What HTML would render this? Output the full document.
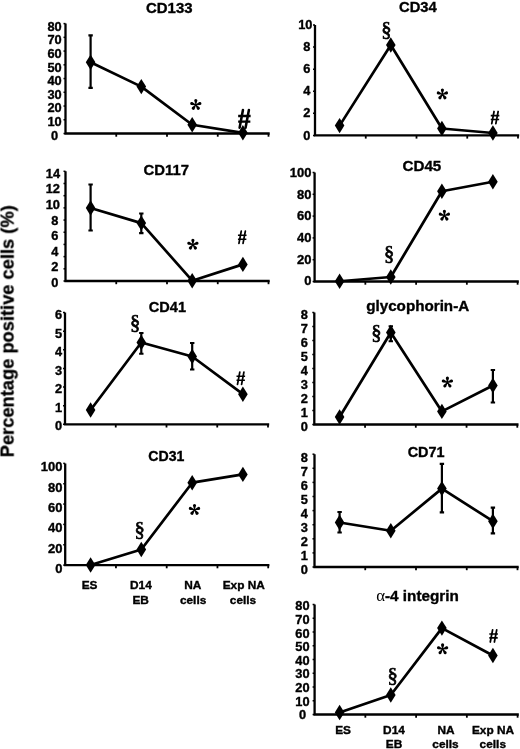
<!DOCTYPE html>
<html><head><meta charset="utf-8"><style>
html,body{margin:0;padding:0;background:#fff;}
svg{display:block;will-change:transform;}
</style></head><body>
<svg width="520" height="749" viewBox="0 0 520 749">
<defs><filter id="b" x="0" y="0" width="520" height="749" filterUnits="userSpaceOnUse"><feGaussianBlur stdDeviation="0.35"/></filter></defs>
<rect width="520" height="749" fill="#fff"/>
<g filter="url(#b)">
<path d="M65.50 23.60V133.50H269.70" stroke="#000" stroke-width="2.3" fill="none"/>
<path d="M116.25 133.50V136.70" stroke="#000" stroke-width="1.8"/>
<path d="M167.00 133.50V136.70" stroke="#000" stroke-width="1.8"/>
<path d="M217.75 133.50V136.70" stroke="#000" stroke-width="1.8"/>
<path d="M268.50 133.50V136.70" stroke="#000" stroke-width="1.8"/>
<path d="M65.50 23.60H63.50" stroke="#000" stroke-width="1.5"/>
<path d="M65.50 37.34H63.50" stroke="#000" stroke-width="1.5"/>
<path d="M65.50 51.08H63.50" stroke="#000" stroke-width="1.5"/>
<path d="M65.50 64.81H63.50" stroke="#000" stroke-width="1.5"/>
<path d="M65.50 78.55H63.50" stroke="#000" stroke-width="1.5"/>
<path d="M65.50 92.29H63.50" stroke="#000" stroke-width="1.5"/>
<path d="M65.50 106.03H63.50" stroke="#000" stroke-width="1.5"/>
<path d="M65.50 119.76H63.50" stroke="#000" stroke-width="1.5"/>
<path d="M65.50 133.50H63.50" stroke="#000" stroke-width="1.5"/>
<text transform="translate(54.60,139.50) scale(1.07,1)" font-family="Liberation Sans" font-weight="bold" font-size="12.0" text-anchor="middle" stroke="#000" stroke-width="0.35">0</text>
<text transform="translate(54.60,125.91) scale(1.07,1)" font-family="Liberation Sans" font-weight="bold" font-size="12.0" text-anchor="middle" stroke="#000" stroke-width="0.35">10</text>
<text transform="translate(54.60,112.32) scale(1.07,1)" font-family="Liberation Sans" font-weight="bold" font-size="12.0" text-anchor="middle" stroke="#000" stroke-width="0.35">20</text>
<text transform="translate(54.60,98.73) scale(1.07,1)" font-family="Liberation Sans" font-weight="bold" font-size="12.0" text-anchor="middle" stroke="#000" stroke-width="0.35">30</text>
<text transform="translate(54.60,85.15) scale(1.07,1)" font-family="Liberation Sans" font-weight="bold" font-size="12.0" text-anchor="middle" stroke="#000" stroke-width="0.35">40</text>
<text transform="translate(54.60,71.56) scale(1.07,1)" font-family="Liberation Sans" font-weight="bold" font-size="12.0" text-anchor="middle" stroke="#000" stroke-width="0.35">50</text>
<text transform="translate(54.60,57.97) scale(1.07,1)" font-family="Liberation Sans" font-weight="bold" font-size="12.0" text-anchor="middle" stroke="#000" stroke-width="0.35">60</text>
<text transform="translate(54.60,44.38) scale(1.07,1)" font-family="Liberation Sans" font-weight="bold" font-size="12.0" text-anchor="middle" stroke="#000" stroke-width="0.35">70</text>
<text transform="translate(54.60,30.80) scale(1.07,1)" font-family="Liberation Sans" font-weight="bold" font-size="12.0" text-anchor="middle" stroke="#000" stroke-width="0.35">80</text>
<text x="146.00" y="12.90" font-family="Liberation Sans" font-weight="bold" font-size="14.5" textLength="46.50" lengthAdjust="spacingAndGlyphs" stroke="#000" stroke-width="0.35">CD133</text>
<path d="M90.60 62.20 L141.30 86.60 L192.20 124.75 L242.90 132.80" stroke="#000" stroke-width="2.7" fill="none" stroke-linejoin="round"/>
<path d="M90.60 35.40V87.80M88.40 35.40H92.80M88.40 87.80H92.80" stroke="#000" stroke-width="2.2" fill="none"/>
<path d="M90.60 54.50L95.40 62.20L90.60 69.90L85.80 62.20Z"/>
<path d="M141.30 78.90L146.10 86.60L141.30 94.30L136.50 86.60Z"/>
<path d="M192.20 117.05L197.00 124.75L192.20 132.45L187.40 124.75Z"/>
<path d="M242.90 125.10L247.70 132.80L242.90 140.50L238.10 132.80Z"/>
<path d="M196.10 104.85L197.40 100.60A1.6 1.6 0 0 0 194.20 100.60L195.50 104.85ZM195.89 105.14L200.34 105.06A1.6 1.6 0 0 0 199.35 102.01L195.71 104.56ZM195.56 105.03L197.00 109.23A1.6 1.6 0 0 0 199.59 107.35L196.04 104.67ZM195.56 104.67L192.01 107.35A1.6 1.6 0 0 0 194.60 109.23L196.04 105.03ZM195.89 104.56L192.25 102.01A1.6 1.6 0 0 0 191.26 105.06L195.71 105.14Z"/>
<circle cx="195.80" cy="104.85" r="0.9"/>
<path d="M242.95 109.95L239.62 127.64 M248.90 109.95L245.56 127.64" stroke="#000" stroke-width="2.54" stroke-linecap="round" fill="none"/>
<path d="M238.17 115.97H250.63M238.17 121.63H250.34" stroke="#000" stroke-width="2.32" fill="none"/>
<path d="M65.50 171.30V281.00H269.70" stroke="#000" stroke-width="2.3" fill="none"/>
<path d="M116.25 281.00V284.20" stroke="#000" stroke-width="1.8"/>
<path d="M167.00 281.00V284.20" stroke="#000" stroke-width="1.8"/>
<path d="M217.75 281.00V284.20" stroke="#000" stroke-width="1.8"/>
<path d="M268.50 281.00V284.20" stroke="#000" stroke-width="1.8"/>
<path d="M65.50 171.30H63.50" stroke="#000" stroke-width="1.5"/>
<path d="M65.50 183.49H63.50" stroke="#000" stroke-width="1.5"/>
<path d="M65.50 195.68H63.50" stroke="#000" stroke-width="1.5"/>
<path d="M65.50 207.87H63.50" stroke="#000" stroke-width="1.5"/>
<path d="M65.50 220.06H63.50" stroke="#000" stroke-width="1.5"/>
<path d="M65.50 232.24H63.50" stroke="#000" stroke-width="1.5"/>
<path d="M65.50 244.43H63.50" stroke="#000" stroke-width="1.5"/>
<path d="M65.50 256.62H63.50" stroke="#000" stroke-width="1.5"/>
<path d="M65.50 268.81H63.50" stroke="#000" stroke-width="1.5"/>
<path d="M65.50 281.00H63.50" stroke="#000" stroke-width="1.5"/>
<text transform="translate(54.80,286.80) scale(1.07,1)" font-family="Liberation Sans" font-weight="bold" font-size="12.0" text-anchor="middle" stroke="#000" stroke-width="0.35">0</text>
<text transform="translate(54.80,271.24) scale(1.07,1)" font-family="Liberation Sans" font-weight="bold" font-size="12.0" text-anchor="middle" stroke="#000" stroke-width="0.35">2</text>
<text transform="translate(54.80,255.68) scale(1.07,1)" font-family="Liberation Sans" font-weight="bold" font-size="12.0" text-anchor="middle" stroke="#000" stroke-width="0.35">4</text>
<text transform="translate(54.80,240.12) scale(1.07,1)" font-family="Liberation Sans" font-weight="bold" font-size="12.0" text-anchor="middle" stroke="#000" stroke-width="0.35">6</text>
<text transform="translate(54.80,224.57) scale(1.07,1)" font-family="Liberation Sans" font-weight="bold" font-size="12.0" text-anchor="middle" stroke="#000" stroke-width="0.35">8</text>
<text transform="translate(52.80,209.01) scale(1.07,1)" font-family="Liberation Sans" font-weight="bold" font-size="12.0" text-anchor="middle" stroke="#000" stroke-width="0.35">10</text>
<text transform="translate(52.80,193.45) scale(1.07,1)" font-family="Liberation Sans" font-weight="bold" font-size="12.0" text-anchor="middle" stroke="#000" stroke-width="0.35">12</text>
<text transform="translate(52.90,177.90) scale(1.07,1)" font-family="Liberation Sans" font-weight="bold" font-size="12.0" text-anchor="middle" stroke="#000" stroke-width="0.35">14</text>
<text x="143.50" y="174.50" font-family="Liberation Sans" font-weight="bold" font-size="14.5" textLength="45.40" lengthAdjust="spacingAndGlyphs" stroke="#000" stroke-width="0.35">CD117</text>
<path d="M90.60 208.00 L141.30 223.10 L192.20 280.70 L242.90 264.40" stroke="#000" stroke-width="2.7" fill="none" stroke-linejoin="round"/>
<path d="M90.60 184.50V230.50M88.40 184.50H92.80M88.40 230.50H92.80" stroke="#000" stroke-width="2.2" fill="none"/>
<path d="M141.30 213.50V233.10M139.10 213.50H143.50M139.10 233.10H143.50" stroke="#000" stroke-width="2.2" fill="none"/>
<path d="M90.60 200.30L95.40 208.00L90.60 215.70L85.80 208.00Z"/>
<path d="M141.30 215.40L146.10 223.10L141.30 230.80L136.50 223.10Z"/>
<path d="M192.20 273.00L197.00 280.70L192.20 288.40L187.40 280.70Z"/>
<path d="M242.90 256.70L247.70 264.40L242.90 272.10L238.10 264.40Z"/>
<path d="M193.20 244.60L194.50 240.35A1.6 1.6 0 0 0 191.30 240.35L192.60 244.60ZM192.99 244.89L197.44 244.81A1.6 1.6 0 0 0 196.45 241.76L192.81 244.31ZM192.66 244.78L194.10 248.98A1.6 1.6 0 0 0 196.69 247.10L193.14 244.42ZM192.66 244.42L189.11 247.10A1.6 1.6 0 0 0 191.70 248.98L193.14 244.78ZM192.99 244.31L189.35 241.76A1.6 1.6 0 0 0 188.36 244.81L192.81 244.89Z"/>
<circle cx="192.90" cy="244.60" r="0.9"/>
<path d="M241.25 231.15L238.95 243.35 M245.35 231.15L243.05 243.35" stroke="#000" stroke-width="1.75" stroke-linecap="round" fill="none"/>
<path d="M237.95 235.30H246.55M237.95 239.20H246.35" stroke="#000" stroke-width="1.60" fill="none"/>
<path d="M65.00 312.50V424.30H269.20" stroke="#000" stroke-width="2.3" fill="none"/>
<path d="M115.75 424.30V427.50" stroke="#000" stroke-width="1.8"/>
<path d="M166.50 424.30V427.50" stroke="#000" stroke-width="1.8"/>
<path d="M217.25 424.30V427.50" stroke="#000" stroke-width="1.8"/>
<path d="M268.00 424.30V427.50" stroke="#000" stroke-width="1.8"/>
<path d="M65.00 312.50H63.00" stroke="#000" stroke-width="1.5"/>
<path d="M65.00 331.13H63.00" stroke="#000" stroke-width="1.5"/>
<path d="M65.00 349.77H63.00" stroke="#000" stroke-width="1.5"/>
<path d="M65.00 368.40H63.00" stroke="#000" stroke-width="1.5"/>
<path d="M65.00 387.03H63.00" stroke="#000" stroke-width="1.5"/>
<path d="M65.00 405.67H63.00" stroke="#000" stroke-width="1.5"/>
<path d="M65.00 424.30H63.00" stroke="#000" stroke-width="1.5"/>
<text transform="translate(62.03,430.30) scale(1.07,1)" font-family="Liberation Sans" font-weight="bold" font-size="12.0" text-anchor="end" stroke="#000" stroke-width="0.35">0</text>
<text transform="translate(62.03,411.74) scale(1.07,1)" font-family="Liberation Sans" font-weight="bold" font-size="12.0" text-anchor="end" stroke="#000" stroke-width="0.35">1</text>
<text transform="translate(62.03,393.18) scale(1.07,1)" font-family="Liberation Sans" font-weight="bold" font-size="12.0" text-anchor="end" stroke="#000" stroke-width="0.35">2</text>
<text transform="translate(62.03,374.62) scale(1.07,1)" font-family="Liberation Sans" font-weight="bold" font-size="12.0" text-anchor="end" stroke="#000" stroke-width="0.35">3</text>
<text transform="translate(62.03,356.06) scale(1.07,1)" font-family="Liberation Sans" font-weight="bold" font-size="12.0" text-anchor="end" stroke="#000" stroke-width="0.35">4</text>
<text transform="translate(62.03,337.50) scale(1.07,1)" font-family="Liberation Sans" font-weight="bold" font-size="12.0" text-anchor="end" stroke="#000" stroke-width="0.35">5</text>
<text transform="translate(62.03,318.95) scale(1.07,1)" font-family="Liberation Sans" font-weight="bold" font-size="12.0" text-anchor="end" stroke="#000" stroke-width="0.35">6</text>
<text x="148.80" y="312.10" font-family="Liberation Sans" font-weight="bold" font-size="14.5" textLength="37.20" lengthAdjust="spacingAndGlyphs" stroke="#000" stroke-width="0.35">CD41</text>
<path d="M90.60 410.00 L141.30 342.50 L192.20 356.50 L242.90 394.20" stroke="#000" stroke-width="2.7" fill="none" stroke-linejoin="round"/>
<path d="M141.30 333.00V353.75M139.10 333.00H143.50M139.10 353.75H143.50" stroke="#000" stroke-width="2.2" fill="none"/>
<path d="M192.20 343.00V369.50M190.00 343.00H194.40M190.00 369.50H194.40" stroke="#000" stroke-width="2.2" fill="none"/>
<path d="M90.60 402.30L95.40 410.00L90.60 417.70L85.80 410.00Z"/>
<path d="M141.30 334.80L146.10 342.50L141.30 350.20L136.50 342.50Z"/>
<path d="M192.20 348.80L197.00 356.50L192.20 364.20L187.40 356.50Z"/>
<path d="M242.90 386.50L247.70 394.20L242.90 401.90L238.10 394.20Z"/>
<text transform="translate(129.95,329.15) scale(1.0,1)" font-family="Liberation Serif" font-weight="normal" font-size="20.6" text-anchor="start" stroke="#000" stroke-width="0.7">§</text>
<path d="M239.80 372.15L237.50 384.35 M243.90 372.15L241.60 384.35" stroke="#000" stroke-width="1.75" stroke-linecap="round" fill="none"/>
<path d="M236.50 376.30H245.10M236.50 380.20H244.90" stroke="#000" stroke-width="1.60" fill="none"/>
<path d="M65.20 463.40V565.10H269.40" stroke="#000" stroke-width="2.3" fill="none"/>
<path d="M115.95 565.10V568.30" stroke="#000" stroke-width="1.8"/>
<path d="M166.70 565.10V568.30" stroke="#000" stroke-width="1.8"/>
<path d="M217.45 565.10V568.30" stroke="#000" stroke-width="1.8"/>
<path d="M268.20 565.10V568.30" stroke="#000" stroke-width="1.8"/>
<path d="M65.20 463.40H63.20" stroke="#000" stroke-width="1.5"/>
<path d="M65.20 483.74H63.20" stroke="#000" stroke-width="1.5"/>
<path d="M65.20 504.08H63.20" stroke="#000" stroke-width="1.5"/>
<path d="M65.20 524.42H63.20" stroke="#000" stroke-width="1.5"/>
<path d="M65.20 544.76H63.20" stroke="#000" stroke-width="1.5"/>
<path d="M65.20 565.10H63.20" stroke="#000" stroke-width="1.5"/>
<text transform="translate(62.53,573.27) scale(1.04,1)" font-family="Liberation Sans" font-weight="bold" font-size="12.5" text-anchor="end" stroke="#000" stroke-width="0.35">0</text>
<text transform="translate(62.53,552.85) scale(1.04,1)" font-family="Liberation Sans" font-weight="bold" font-size="12.5" text-anchor="end" stroke="#000" stroke-width="0.35">20</text>
<text transform="translate(62.53,532.41) scale(1.04,1)" font-family="Liberation Sans" font-weight="bold" font-size="12.5" text-anchor="end" stroke="#000" stroke-width="0.35">40</text>
<text transform="translate(62.53,511.99) scale(1.04,1)" font-family="Liberation Sans" font-weight="bold" font-size="12.5" text-anchor="end" stroke="#000" stroke-width="0.35">60</text>
<text transform="translate(62.53,491.56) scale(1.04,1)" font-family="Liberation Sans" font-weight="bold" font-size="12.5" text-anchor="end" stroke="#000" stroke-width="0.35">80</text>
<text transform="translate(62.53,471.12) scale(1.04,1)" font-family="Liberation Sans" font-weight="bold" font-size="12.5" text-anchor="end" stroke="#000" stroke-width="0.35">100</text>
<text x="148.30" y="460.80" font-family="Liberation Sans" font-weight="bold" font-size="14.5" textLength="36.10" lengthAdjust="spacingAndGlyphs" stroke="#000" stroke-width="0.35">CD31</text>
<path d="M90.60 565.00 L141.30 549.50 L192.20 482.70 L242.90 474.40" stroke="#000" stroke-width="2.7" fill="none" stroke-linejoin="round"/>
<path d="M90.60 557.30L95.40 565.00L90.60 572.70L85.80 565.00Z"/>
<path d="M141.30 541.80L146.10 549.50L141.30 557.20L136.50 549.50Z"/>
<path d="M192.20 475.00L197.00 482.70L192.20 490.40L187.40 482.70Z"/>
<path d="M242.90 466.70L247.70 474.40L242.90 482.10L238.10 474.40Z"/>
<text transform="translate(134.55,536.15) scale(1.0,1)" font-family="Liberation Serif" font-weight="normal" font-size="20.6" text-anchor="start" stroke="#000" stroke-width="0.7">§</text>
<path d="M194.80 509.80L196.10 505.55A1.6 1.6 0 0 0 192.90 505.55L194.20 509.80ZM194.59 510.09L199.04 510.01A1.6 1.6 0 0 0 198.05 506.96L194.41 509.51ZM194.26 509.98L195.70 514.18A1.6 1.6 0 0 0 198.29 512.30L194.74 509.62ZM194.26 509.62L190.71 512.30A1.6 1.6 0 0 0 193.30 514.18L194.74 509.98ZM194.59 509.51L190.95 506.96A1.6 1.6 0 0 0 189.96 510.01L194.41 510.09Z"/>
<circle cx="194.50" cy="509.80" r="0.9"/>
<text transform="translate(89.60,588.80) scale(1.1,1)" font-family="Liberation Sans" font-weight="bold" font-size="10.8" text-anchor="middle" stroke="#000" stroke-width="0.35">ES</text>
<text transform="translate(140.85,588.80) scale(1.1,1)" font-family="Liberation Sans" font-weight="bold" font-size="10.8" text-anchor="middle" stroke="#000" stroke-width="0.35">D14</text>
<text transform="translate(140.65,604.00) scale(1.1,1)" font-family="Liberation Sans" font-weight="bold" font-size="10.8" text-anchor="middle" stroke="#000" stroke-width="0.35">EB</text>
<text transform="translate(192.80,588.80) scale(1.1,1)" font-family="Liberation Sans" font-weight="bold" font-size="10.8" text-anchor="middle" stroke="#000" stroke-width="0.35">NA</text>
<text transform="translate(193.10,604.00) scale(1.1,1)" font-family="Liberation Sans" font-weight="bold" font-size="10.8" text-anchor="middle" stroke="#000" stroke-width="0.35">cells</text>
<text transform="translate(243.75,588.80) scale(1.1,1)" font-family="Liberation Sans" font-weight="bold" font-size="10.8" text-anchor="middle" stroke="#000" stroke-width="0.35">Exp NA</text>
<text transform="translate(243.00,604.00) scale(1.1,1)" font-family="Liberation Sans" font-weight="bold" font-size="10.8" text-anchor="middle" stroke="#000" stroke-width="0.35">cells</text>
<path d="M315.00 25.00V135.40H519.20" stroke="#000" stroke-width="2.3" fill="none"/>
<path d="M365.75 135.40V138.60" stroke="#000" stroke-width="1.8"/>
<path d="M416.50 135.40V138.60" stroke="#000" stroke-width="1.8"/>
<path d="M467.25 135.40V138.60" stroke="#000" stroke-width="1.8"/>
<path d="M518.00 135.40V138.60" stroke="#000" stroke-width="1.8"/>
<path d="M315.00 25.00H313.00" stroke="#000" stroke-width="1.5"/>
<path d="M315.00 47.08H313.00" stroke="#000" stroke-width="1.5"/>
<path d="M315.00 69.16H313.00" stroke="#000" stroke-width="1.5"/>
<path d="M315.00 91.24H313.00" stroke="#000" stroke-width="1.5"/>
<path d="M315.00 113.32H313.00" stroke="#000" stroke-width="1.5"/>
<path d="M315.00 135.40H313.00" stroke="#000" stroke-width="1.5"/>
<text transform="translate(306.90,139.50) scale(1.07,1)" font-family="Liberation Sans" font-weight="bold" font-size="12.0" text-anchor="middle" stroke="#000" stroke-width="0.35">0</text>
<text transform="translate(306.90,117.34) scale(1.07,1)" font-family="Liberation Sans" font-weight="bold" font-size="12.0" text-anchor="middle" stroke="#000" stroke-width="0.35">2</text>
<text transform="translate(306.90,95.18) scale(1.07,1)" font-family="Liberation Sans" font-weight="bold" font-size="12.0" text-anchor="middle" stroke="#000" stroke-width="0.35">4</text>
<text transform="translate(306.90,73.02) scale(1.07,1)" font-family="Liberation Sans" font-weight="bold" font-size="12.0" text-anchor="middle" stroke="#000" stroke-width="0.35">6</text>
<text transform="translate(306.90,50.86) scale(1.07,1)" font-family="Liberation Sans" font-weight="bold" font-size="12.0" text-anchor="middle" stroke="#000" stroke-width="0.35">8</text>
<text transform="translate(305.30,28.70) scale(1.07,1)" font-family="Liberation Sans" font-weight="bold" font-size="12.0" text-anchor="middle" stroke="#000" stroke-width="0.35">10</text>
<text x="399.00" y="11.50" font-family="Liberation Sans" font-weight="bold" font-size="14.5" textLength="37.70" lengthAdjust="spacingAndGlyphs" stroke="#000" stroke-width="0.35">CD34</text>
<path d="M339.60 125.60 L390.80 45.00 L441.90 128.50 L492.90 133.00" stroke="#000" stroke-width="2.7" fill="none" stroke-linejoin="round"/>
<path d="M339.60 117.90L344.40 125.60L339.60 133.30L334.80 125.60Z"/>
<path d="M390.80 37.30L395.60 45.00L390.80 52.70L386.00 45.00Z"/>
<path d="M441.90 120.80L446.70 128.50L441.90 136.20L437.10 128.50Z"/>
<path d="M492.90 125.30L497.70 133.00L492.90 140.70L488.10 133.00Z"/>
<text transform="translate(381.30,36.10) scale(1.0,1)" font-family="Liberation Serif" font-weight="normal" font-size="20.6" text-anchor="start" stroke="#000" stroke-width="0.7">§</text>
<path d="M442.70 94.30L444.00 90.05A1.6 1.6 0 0 0 440.80 90.05L442.10 94.30ZM442.49 94.59L446.94 94.51A1.6 1.6 0 0 0 445.95 91.46L442.31 94.01ZM442.16 94.48L443.60 98.68A1.6 1.6 0 0 0 446.19 96.80L442.64 94.12ZM442.16 94.12L438.61 96.80A1.6 1.6 0 0 0 441.20 98.68L442.64 94.48ZM442.49 94.01L438.85 91.46A1.6 1.6 0 0 0 437.86 94.51L442.31 94.59Z"/>
<circle cx="442.40" cy="94.30" r="0.9"/>
<path d="M494.05 111.50L491.75 123.70 M498.15 111.50L495.85 123.70" stroke="#000" stroke-width="1.75" stroke-linecap="round" fill="none"/>
<path d="M490.75 115.65H499.35M490.75 119.55H499.15" stroke="#000" stroke-width="1.60" fill="none"/>
<path d="M314.60 172.50V281.50H518.80" stroke="#000" stroke-width="2.3" fill="none"/>
<path d="M365.35 281.50V284.70" stroke="#000" stroke-width="1.8"/>
<path d="M416.10 281.50V284.70" stroke="#000" stroke-width="1.8"/>
<path d="M466.85 281.50V284.70" stroke="#000" stroke-width="1.8"/>
<path d="M517.60 281.50V284.70" stroke="#000" stroke-width="1.8"/>
<path d="M314.60 172.50H312.60" stroke="#000" stroke-width="1.5"/>
<path d="M314.60 194.30H312.60" stroke="#000" stroke-width="1.5"/>
<path d="M314.60 216.10H312.60" stroke="#000" stroke-width="1.5"/>
<path d="M314.60 237.90H312.60" stroke="#000" stroke-width="1.5"/>
<path d="M314.60 259.70H312.60" stroke="#000" stroke-width="1.5"/>
<path d="M314.60 281.50H312.60" stroke="#000" stroke-width="1.5"/>
<text transform="translate(311.53,285.38) scale(1.04,1)" font-family="Liberation Sans" font-weight="bold" font-size="12.5" text-anchor="end" stroke="#000" stroke-width="0.35">0</text>
<text transform="translate(311.53,263.69) scale(1.04,1)" font-family="Liberation Sans" font-weight="bold" font-size="12.5" text-anchor="end" stroke="#000" stroke-width="0.35">20</text>
<text transform="translate(311.53,241.99) scale(1.04,1)" font-family="Liberation Sans" font-weight="bold" font-size="12.5" text-anchor="end" stroke="#000" stroke-width="0.35">40</text>
<text transform="translate(311.53,220.30) scale(1.04,1)" font-family="Liberation Sans" font-weight="bold" font-size="12.5" text-anchor="end" stroke="#000" stroke-width="0.35">60</text>
<text transform="translate(311.53,198.61) scale(1.04,1)" font-family="Liberation Sans" font-weight="bold" font-size="12.5" text-anchor="end" stroke="#000" stroke-width="0.35">80</text>
<text transform="translate(311.53,176.92) scale(1.04,1)" font-family="Liberation Sans" font-weight="bold" font-size="12.5" text-anchor="end" stroke="#000" stroke-width="0.35">100</text>
<text x="402.50" y="170.75" font-family="Liberation Sans" font-weight="bold" font-size="14.5" textLength="38.75" lengthAdjust="spacingAndGlyphs" stroke="#000" stroke-width="0.35">CD45</text>
<path d="M339.60 281.25 L390.80 277.00 L441.90 191.25 L492.90 181.75" stroke="#000" stroke-width="2.7" fill="none" stroke-linejoin="round"/>
<path d="M339.60 273.55L344.40 281.25L339.60 288.95L334.80 281.25Z"/>
<path d="M390.80 269.30L395.60 277.00L390.80 284.70L386.00 277.00Z"/>
<path d="M441.90 183.55L446.70 191.25L441.90 198.95L437.10 191.25Z"/>
<path d="M492.90 174.05L497.70 181.75L492.90 189.45L488.10 181.75Z"/>
<text transform="translate(384.10,259.95) scale(1.0,1)" font-family="Liberation Serif" font-weight="normal" font-size="20.6" text-anchor="start" stroke="#000" stroke-width="0.7">§</text>
<path d="M444.70 215.50L446.00 211.25A1.6 1.6 0 0 0 442.80 211.25L444.10 215.50ZM444.49 215.79L448.94 215.71A1.6 1.6 0 0 0 447.95 212.66L444.31 215.21ZM444.16 215.68L445.60 219.88A1.6 1.6 0 0 0 448.19 218.00L444.64 215.32ZM444.16 215.32L440.61 218.00A1.6 1.6 0 0 0 443.20 219.88L444.64 215.68ZM444.49 215.21L440.85 212.66A1.6 1.6 0 0 0 439.86 215.71L444.31 215.79Z"/>
<circle cx="444.40" cy="215.50" r="0.9"/>
<path d="M314.30 312.50V424.50H518.50" stroke="#000" stroke-width="2.3" fill="none"/>
<path d="M365.05 424.50V427.70" stroke="#000" stroke-width="1.8"/>
<path d="M415.80 424.50V427.70" stroke="#000" stroke-width="1.8"/>
<path d="M466.55 424.50V427.70" stroke="#000" stroke-width="1.8"/>
<path d="M517.30 424.50V427.70" stroke="#000" stroke-width="1.8"/>
<path d="M314.30 312.50H312.30" stroke="#000" stroke-width="1.5"/>
<path d="M314.30 326.50H312.30" stroke="#000" stroke-width="1.5"/>
<path d="M314.30 340.50H312.30" stroke="#000" stroke-width="1.5"/>
<path d="M314.30 354.50H312.30" stroke="#000" stroke-width="1.5"/>
<path d="M314.30 368.50H312.30" stroke="#000" stroke-width="1.5"/>
<path d="M314.30 382.50H312.30" stroke="#000" stroke-width="1.5"/>
<path d="M314.30 396.50H312.30" stroke="#000" stroke-width="1.5"/>
<path d="M314.30 410.50H312.30" stroke="#000" stroke-width="1.5"/>
<path d="M314.30 424.50H312.30" stroke="#000" stroke-width="1.5"/>
<text transform="translate(307.93,430.75) scale(1.07,1)" font-family="Liberation Sans" font-weight="bold" font-size="12.0" text-anchor="end" stroke="#000" stroke-width="0.35">0</text>
<text transform="translate(307.93,416.75) scale(1.07,1)" font-family="Liberation Sans" font-weight="bold" font-size="12.0" text-anchor="end" stroke="#000" stroke-width="0.35">1</text>
<text transform="translate(307.93,402.75) scale(1.07,1)" font-family="Liberation Sans" font-weight="bold" font-size="12.0" text-anchor="end" stroke="#000" stroke-width="0.35">2</text>
<text transform="translate(307.93,388.75) scale(1.07,1)" font-family="Liberation Sans" font-weight="bold" font-size="12.0" text-anchor="end" stroke="#000" stroke-width="0.35">3</text>
<text transform="translate(307.93,374.75) scale(1.07,1)" font-family="Liberation Sans" font-weight="bold" font-size="12.0" text-anchor="end" stroke="#000" stroke-width="0.35">4</text>
<text transform="translate(307.93,360.75) scale(1.07,1)" font-family="Liberation Sans" font-weight="bold" font-size="12.0" text-anchor="end" stroke="#000" stroke-width="0.35">5</text>
<text transform="translate(307.93,346.75) scale(1.07,1)" font-family="Liberation Sans" font-weight="bold" font-size="12.0" text-anchor="end" stroke="#000" stroke-width="0.35">6</text>
<text transform="translate(307.93,332.75) scale(1.07,1)" font-family="Liberation Sans" font-weight="bold" font-size="12.0" text-anchor="end" stroke="#000" stroke-width="0.35">7</text>
<text transform="translate(307.93,318.75) scale(1.07,1)" font-family="Liberation Sans" font-weight="bold" font-size="12.0" text-anchor="end" stroke="#000" stroke-width="0.35">8</text>
<text x="366.20" y="310.50" font-family="Liberation Sans" font-weight="bold" font-size="14.5" textLength="103.00" lengthAdjust="spacingAndGlyphs" stroke="#000" stroke-width="0.35">glycophorin-A</text>
<path d="M339.60 417.00 L390.80 332.50 L441.90 411.40 L492.90 385.50" stroke="#000" stroke-width="2.7" fill="none" stroke-linejoin="round"/>
<path d="M390.80 326.25V341.25M388.60 326.25H393.00M388.60 341.25H393.00" stroke="#000" stroke-width="2.2" fill="none"/>
<path d="M492.90 370.00V402.50M490.70 370.00H495.10M490.70 402.50H495.10" stroke="#000" stroke-width="2.2" fill="none"/>
<path d="M339.60 409.30L344.40 417.00L339.60 424.70L334.80 417.00Z"/>
<path d="M390.80 324.80L395.60 332.50L390.80 340.20L386.00 332.50Z"/>
<path d="M441.90 403.70L446.70 411.40L441.90 419.10L437.10 411.40Z"/>
<path d="M492.90 377.80L497.70 385.50L492.90 393.20L488.10 385.50Z"/>
<text transform="translate(371.35,339.35) scale(1.0,1)" font-family="Liberation Serif" font-weight="normal" font-size="20.6" text-anchor="start" stroke="#000" stroke-width="0.7">§</text>
<path d="M447.70 382.40L449.00 378.15A1.6 1.6 0 0 0 445.80 378.15L447.10 382.40ZM447.49 382.69L451.94 382.61A1.6 1.6 0 0 0 450.95 379.56L447.31 382.11ZM447.16 382.58L448.60 386.78A1.6 1.6 0 0 0 451.19 384.90L447.64 382.22ZM447.16 382.22L443.61 384.90A1.6 1.6 0 0 0 446.20 386.78L447.64 382.58ZM447.49 382.11L443.85 379.56A1.6 1.6 0 0 0 442.86 382.61L447.31 382.69Z"/>
<circle cx="447.40" cy="382.40" r="0.9"/>
<path d="M314.50 454.20V567.00H518.70" stroke="#000" stroke-width="2.3" fill="none"/>
<path d="M365.25 567.00V570.20" stroke="#000" stroke-width="1.8"/>
<path d="M416.00 567.00V570.20" stroke="#000" stroke-width="1.8"/>
<path d="M466.75 567.00V570.20" stroke="#000" stroke-width="1.8"/>
<path d="M517.50 567.00V570.20" stroke="#000" stroke-width="1.8"/>
<path d="M314.50 454.20H312.50" stroke="#000" stroke-width="1.5"/>
<path d="M314.50 468.30H312.50" stroke="#000" stroke-width="1.5"/>
<path d="M314.50 482.40H312.50" stroke="#000" stroke-width="1.5"/>
<path d="M314.50 496.50H312.50" stroke="#000" stroke-width="1.5"/>
<path d="M314.50 510.60H312.50" stroke="#000" stroke-width="1.5"/>
<path d="M314.50 524.70H312.50" stroke="#000" stroke-width="1.5"/>
<path d="M314.50 538.80H312.50" stroke="#000" stroke-width="1.5"/>
<path d="M314.50 552.90H312.50" stroke="#000" stroke-width="1.5"/>
<path d="M314.50 567.00H312.50" stroke="#000" stroke-width="1.5"/>
<text transform="translate(307.93,573.75) scale(1.07,1)" font-family="Liberation Sans" font-weight="bold" font-size="12.0" text-anchor="end" stroke="#000" stroke-width="0.35">0</text>
<text transform="translate(307.93,559.71) scale(1.07,1)" font-family="Liberation Sans" font-weight="bold" font-size="12.0" text-anchor="end" stroke="#000" stroke-width="0.35">1</text>
<text transform="translate(307.93,545.68) scale(1.07,1)" font-family="Liberation Sans" font-weight="bold" font-size="12.0" text-anchor="end" stroke="#000" stroke-width="0.35">2</text>
<text transform="translate(307.93,531.65) scale(1.07,1)" font-family="Liberation Sans" font-weight="bold" font-size="12.0" text-anchor="end" stroke="#000" stroke-width="0.35">3</text>
<text transform="translate(307.93,517.62) scale(1.07,1)" font-family="Liberation Sans" font-weight="bold" font-size="12.0" text-anchor="end" stroke="#000" stroke-width="0.35">4</text>
<text transform="translate(307.93,503.59) scale(1.07,1)" font-family="Liberation Sans" font-weight="bold" font-size="12.0" text-anchor="end" stroke="#000" stroke-width="0.35">5</text>
<text transform="translate(307.93,489.56) scale(1.07,1)" font-family="Liberation Sans" font-weight="bold" font-size="12.0" text-anchor="end" stroke="#000" stroke-width="0.35">6</text>
<text transform="translate(307.93,475.53) scale(1.07,1)" font-family="Liberation Sans" font-weight="bold" font-size="12.0" text-anchor="end" stroke="#000" stroke-width="0.35">7</text>
<text transform="translate(307.93,461.50) scale(1.07,1)" font-family="Liberation Sans" font-weight="bold" font-size="12.0" text-anchor="end" stroke="#000" stroke-width="0.35">8</text>
<text x="407.70" y="457.10" font-family="Liberation Sans" font-weight="bold" font-size="14.5" textLength="36.90" lengthAdjust="spacingAndGlyphs" stroke="#000" stroke-width="0.35">CD71</text>
<path d="M339.60 522.50 L390.80 530.75 L441.90 488.60 L492.90 521.20" stroke="#000" stroke-width="2.7" fill="none" stroke-linejoin="round"/>
<path d="M339.60 512.00V532.50M337.40 512.00H341.80M337.40 532.50H341.80" stroke="#000" stroke-width="2.2" fill="none"/>
<path d="M441.90 463.80V512.30M439.70 463.80H444.10M439.70 512.30H444.10" stroke="#000" stroke-width="2.2" fill="none"/>
<path d="M492.90 507.70V533.30M490.70 507.70H495.10M490.70 533.30H495.10" stroke="#000" stroke-width="2.2" fill="none"/>
<path d="M339.60 514.80L344.40 522.50L339.60 530.20L334.80 522.50Z"/>
<path d="M390.80 523.05L395.60 530.75L390.80 538.45L386.00 530.75Z"/>
<path d="M441.90 480.90L446.70 488.60L441.90 496.30L437.10 488.60Z"/>
<path d="M492.90 513.50L497.70 521.20L492.90 528.90L488.10 521.20Z"/>
<path d="M314.60 604.50V714.50H518.80" stroke="#000" stroke-width="2.3" fill="none"/>
<path d="M365.35 714.50V717.70" stroke="#000" stroke-width="1.8"/>
<path d="M416.10 714.50V717.70" stroke="#000" stroke-width="1.8"/>
<path d="M466.85 714.50V717.70" stroke="#000" stroke-width="1.8"/>
<path d="M517.60 714.50V717.70" stroke="#000" stroke-width="1.8"/>
<path d="M314.60 604.50H312.60" stroke="#000" stroke-width="1.5"/>
<path d="M314.60 618.25H312.60" stroke="#000" stroke-width="1.5"/>
<path d="M314.60 632.00H312.60" stroke="#000" stroke-width="1.5"/>
<path d="M314.60 645.75H312.60" stroke="#000" stroke-width="1.5"/>
<path d="M314.60 659.50H312.60" stroke="#000" stroke-width="1.5"/>
<path d="M314.60 673.25H312.60" stroke="#000" stroke-width="1.5"/>
<path d="M314.60 687.00H312.60" stroke="#000" stroke-width="1.5"/>
<path d="M314.60 700.75H312.60" stroke="#000" stroke-width="1.5"/>
<path d="M314.60 714.50H312.60" stroke="#000" stroke-width="1.5"/>
<text transform="translate(302.50,719.10) scale(1.07,1)" font-family="Liberation Sans" font-weight="bold" font-size="12.0" text-anchor="middle" stroke="#000" stroke-width="0.35">0</text>
<text transform="translate(302.50,705.50) scale(1.07,1)" font-family="Liberation Sans" font-weight="bold" font-size="12.0" text-anchor="middle" stroke="#000" stroke-width="0.35">10</text>
<text transform="translate(302.50,691.90) scale(1.07,1)" font-family="Liberation Sans" font-weight="bold" font-size="12.0" text-anchor="middle" stroke="#000" stroke-width="0.35">20</text>
<text transform="translate(302.50,678.30) scale(1.07,1)" font-family="Liberation Sans" font-weight="bold" font-size="12.0" text-anchor="middle" stroke="#000" stroke-width="0.35">30</text>
<text transform="translate(302.50,664.70) scale(1.07,1)" font-family="Liberation Sans" font-weight="bold" font-size="12.0" text-anchor="middle" stroke="#000" stroke-width="0.35">40</text>
<text transform="translate(302.50,651.10) scale(1.07,1)" font-family="Liberation Sans" font-weight="bold" font-size="12.0" text-anchor="middle" stroke="#000" stroke-width="0.35">50</text>
<text transform="translate(302.50,637.50) scale(1.07,1)" font-family="Liberation Sans" font-weight="bold" font-size="12.0" text-anchor="middle" stroke="#000" stroke-width="0.35">60</text>
<text transform="translate(302.50,623.90) scale(1.07,1)" font-family="Liberation Sans" font-weight="bold" font-size="12.0" text-anchor="middle" stroke="#000" stroke-width="0.35">70</text>
<text transform="translate(302.50,610.30) scale(1.07,1)" font-family="Liberation Sans" font-weight="bold" font-size="12.0" text-anchor="middle" stroke="#000" stroke-width="0.35">80</text>
<text x="385.00" y="601.30" font-family="Liberation Sans" font-weight="bold" font-size="14.5" textLength="73.80" lengthAdjust="spacingAndGlyphs" stroke="#000" stroke-width="0.35">-4 integrin</text>
<path d="M339.60 712.50 L390.80 695.00 L441.90 628.10 L492.90 655.50" stroke="#000" stroke-width="2.7" fill="none" stroke-linejoin="round"/>
<path d="M339.60 704.80L344.40 712.50L339.60 720.20L334.80 712.50Z"/>
<path d="M390.80 687.30L395.60 695.00L390.80 702.70L386.00 695.00Z"/>
<path d="M441.90 620.40L446.70 628.10L441.90 635.80L437.10 628.10Z"/>
<path d="M492.90 647.80L497.70 655.50L492.90 663.20L488.10 655.50Z"/>
<text transform="translate(387.40,681.85) scale(1.0,1)" font-family="Liberation Serif" font-weight="normal" font-size="20.6" text-anchor="start" stroke="#000" stroke-width="0.7">§</text>
<path d="M442.90 649.15L444.20 644.90A1.6 1.6 0 0 0 441.00 644.90L442.30 649.15ZM442.69 649.44L447.14 649.36A1.6 1.6 0 0 0 446.15 646.31L442.51 648.86ZM442.36 649.33L443.80 653.53A1.6 1.6 0 0 0 446.39 651.65L442.84 648.97ZM442.36 648.97L438.81 651.65A1.6 1.6 0 0 0 441.40 653.53L442.84 649.33ZM442.69 648.86L439.05 646.31A1.6 1.6 0 0 0 438.06 649.36L442.51 649.44Z"/>
<circle cx="442.60" cy="649.15" r="0.9"/>
<path d="M492.60 629.80L490.30 642.00 M496.70 629.80L494.40 642.00" stroke="#000" stroke-width="1.75" stroke-linecap="round" fill="none"/>
<path d="M489.30 633.95H497.90M489.30 637.85H497.70" stroke="#000" stroke-width="1.60" fill="none"/>
<text transform="translate(343.10,733.50) scale(1.1,1)" font-family="Liberation Sans" font-weight="bold" font-size="10.8" text-anchor="middle" stroke="#000" stroke-width="0.35">ES</text>
<text transform="translate(394.00,733.50) scale(1.1,1)" font-family="Liberation Sans" font-weight="bold" font-size="10.8" text-anchor="middle" stroke="#000" stroke-width="0.35">D14</text>
<text transform="translate(394.00,747.70) scale(1.1,1)" font-family="Liberation Sans" font-weight="bold" font-size="10.8" text-anchor="middle" stroke="#000" stroke-width="0.35">EB</text>
<text transform="translate(446.00,733.50) scale(1.1,1)" font-family="Liberation Sans" font-weight="bold" font-size="10.8" text-anchor="middle" stroke="#000" stroke-width="0.35">NA</text>
<text transform="translate(445.50,747.70) scale(1.1,1)" font-family="Liberation Sans" font-weight="bold" font-size="10.8" text-anchor="middle" stroke="#000" stroke-width="0.35">cells</text>
<text transform="translate(493.00,733.50) scale(1.1,1)" font-family="Liberation Sans" font-weight="bold" font-size="10.8" text-anchor="middle" stroke="#000" stroke-width="0.35">Exp NA</text>
<text transform="translate(492.80,747.70) scale(1.1,1)" font-family="Liberation Sans" font-weight="bold" font-size="10.8" text-anchor="middle" stroke="#000" stroke-width="0.35">cells</text>
<text x="376.3" y="601.0" font-family="Liberation Serif" font-size="16.8">α</text>
<text transform="translate(13.6,457.3) rotate(-90)" font-family="Liberation Sans" font-weight="bold" font-size="18" textLength="252" lengthAdjust="spacingAndGlyphs" stroke="#000" stroke-width="0.3">Percentage positive cells (%)</text>
</g>
</svg>
</body></html>
